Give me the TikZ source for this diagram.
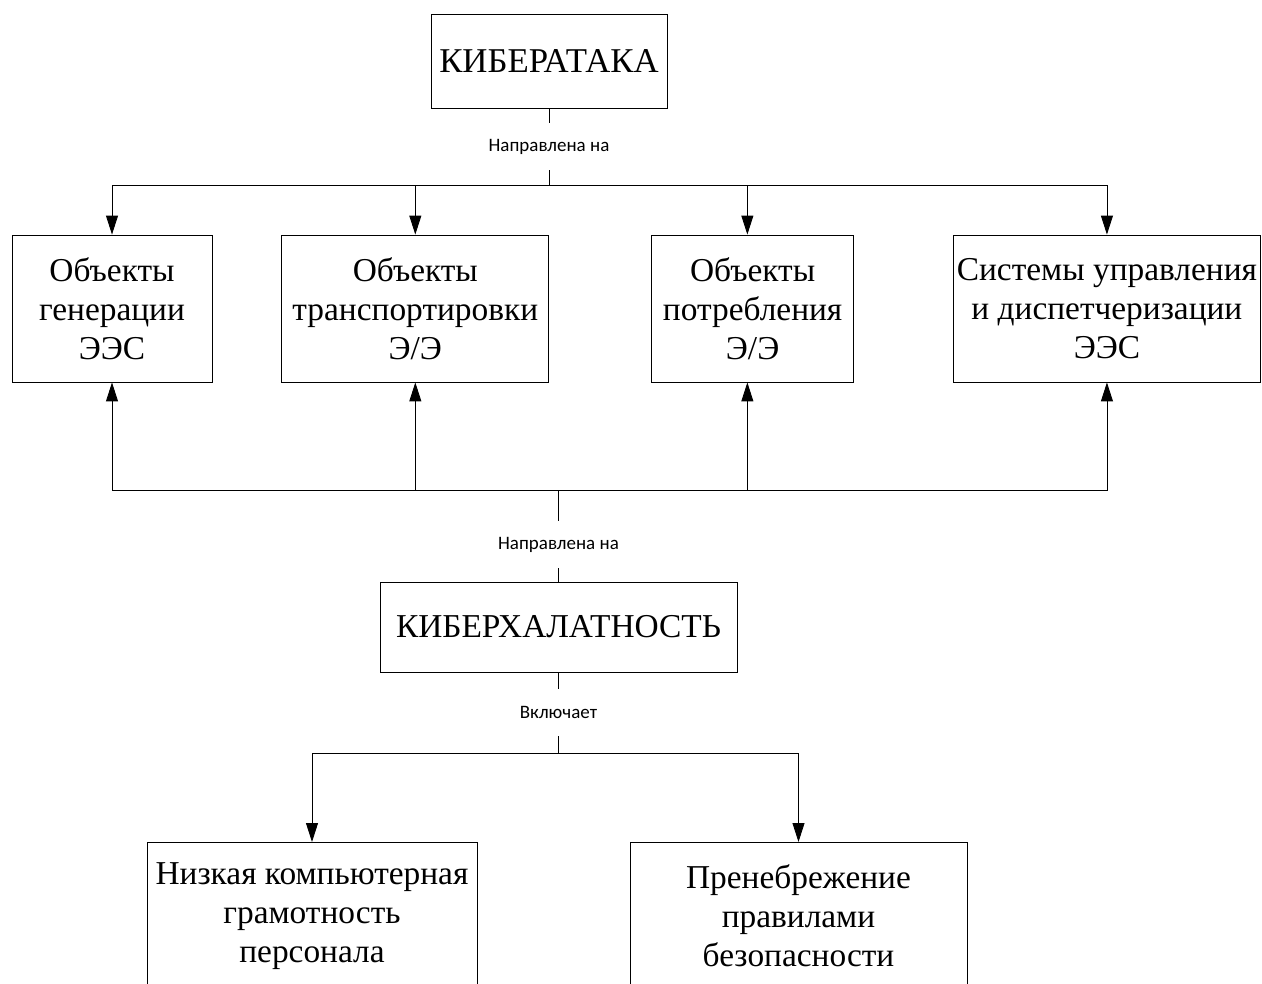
\documentclass[tikz,border=0pt]{standalone}
\usepackage{fontspec}
\setmainfont{Liberation Serif}
\newfontfamily\lblfont{Carlito}
\usetikzlibrary{positioning}
\usetikzlibrary{arrows.meta}

\begin{document}
\begin{tikzpicture}[x=0.02cm, y=-0.02cm, node distance=1cm and 1.5cm,
  box/.style={draw, line width=0.5pt, align=center, inner sep=0pt, minimum height=2.94cm, font=\fontsize{19}{22.2}\selectfont},
  lbl/.style={fill=white, inner xsep=1pt, inner ysep=0pt, minimum height=0.94cm, font=\lblfont\fontsize{10.8}{13}\selectfont},
  arr/.style={line width=0.5pt, -{Triangle[length=0.38cm,width=0.24cm]}},
  ln/.style={line width=0.5pt}]
\useasboundingbox (0,0) rectangle (1262,984);

\node[box, minimum width=4.72cm, minimum height=1.88cm, font=\fontsize{19.8}{22}\selectfont] (attack) at (549,61) {КИБЕРАТАКА};
\coordinate (j1) at (549,185);

\node[box, minimum width=4cm] (gen) at (112,308.5) {Объекты\\генерации\\ЭЭС};
\node[box, minimum width=5.34cm, right=1.38cm of gen] (trans) {Объекты\\транспортировки\\Э/Э};
\node[box, minimum width=4.04cm, right=2.04cm of trans] (cons) {Объекты\\потребления\\Э/Э};
\node[box, minimum width=6.14cm, right=1.98cm of cons] (ctrl) {Системы управления\\и диспетчеризации\\ЭЭС};

\coordinate (j2) at (558.5,490);
\node[box, minimum width=7.14cm, minimum height=1.8cm] (hal) at (558.5,627) {КИБЕРХАЛАТНОСТЬ};
\coordinate (j3) at (558.5,753);

\node[box, minimum width=6.6cm, anchor=north] (low) at (312,842) {Низкая компьютерная\\грамотность\\персонала};
\node[box, minimum width=6.74cm, anchor=north] (neglect) at (798.5,842) {Пренебрежение\\правилами\\безопасности};

% attack -> objects
\draw[ln] (attack) -- node[lbl] {Направлена на} (j1);
\draw[arr] (j1) -| (gen);
\draw[arr] (j1) -| (ctrl);
\draw[arr] (trans |- j1) -- (trans);
\draw[arr] ([xshift=-3]cons.north |- j1) -- ([xshift=-3]cons.north);

% negligence -> objects
\draw[ln] (j2) -- node[lbl, pos=0.6] {Направлена на} (hal);
\draw[arr] (j2) -| (gen);
\draw[arr] (j2) -| (ctrl);
\draw[arr] (trans |- j2) -- (trans);
\draw[arr] ([xshift=-3]cons.south |- j2) -- ([xshift=-3]cons.south);

% negligence includes
\draw[ln] (hal) -- node[lbl] {Включает} (j3);
\draw[arr] (j3) -| (low);
\draw[arr] (j3) -| (neglect);
\end{tikzpicture}
\end{document}
